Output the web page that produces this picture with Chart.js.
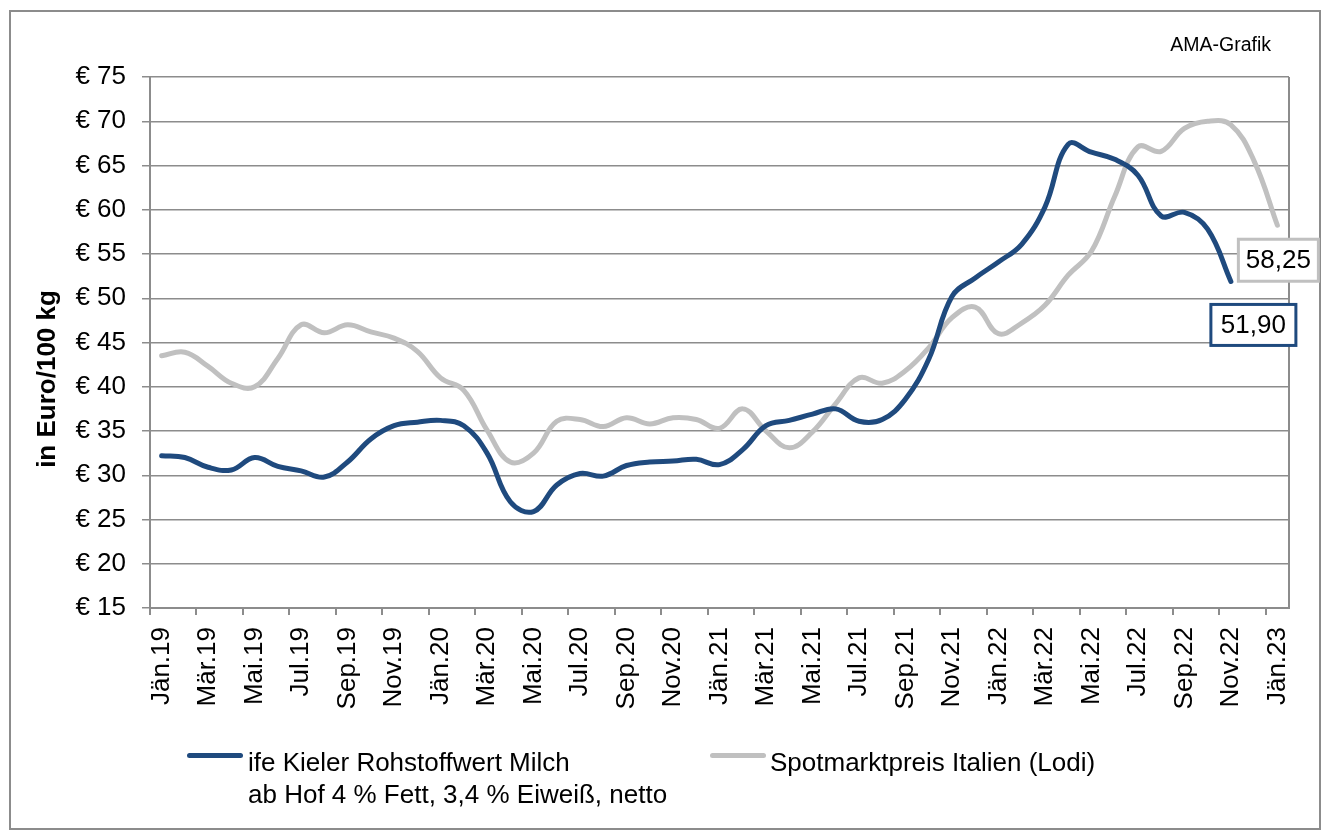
<!DOCTYPE html>
<html lang="de">
<head>
<meta charset="utf-8">
<title>Rohstoffwert Milch vs. Spotmarktpreis</title>
<script src="https://cdn.jsdelivr.net/npm/chart.js@4.4.1/dist/chart.umd.min.js"></script>
<style>
  html, body { margin: 0; padding: 0; background: #fff; }
  #wrap { position: relative; width: 1328px; height: 837px; overflow: hidden; font-family: 'Liberation Sans', Arial, sans-serif; }
  #rahmen { position: absolute; left: 9px; top: 10px; width: 1312px; height: 820px; box-sizing: border-box; border: 2px solid #8c8c8c; }
  #chart { position: absolute; left: 0; top: 0; }
  .swatch { position: absolute; width: 56px; height: 5px; border-radius: 3px; }
  .legtext { position: absolute; font-size: 26px; line-height: 31.7px; color: #000; white-space: pre; }
</style>
</head>
<body>
<div id="wrap">
  <div id="rahmen"></div>
  <canvas id="chart" width="1328" height="837"></canvas>
  <div class="swatch" style="left:187px; top:753px; background:#1f4a7e"></div>
  <div class="legtext" style="left:248px; top:747px">ife Kieler Rohstoffwert Milch
ab Hof 4 % Fett, 3,4 % Eiweiß, netto</div>
  <div class="swatch" style="left:710px; top:753px; background:#c0c0c0"></div>
  <div class="legtext" style="left:770px; top:747px">Spotmarktpreis Italien (Lodi)</div>
</div>
<script>
// ── Daten (Euro/100 kg, monatlich) ──

const kategorien = [
  'Jän.19', 'Feb.19', 'Mär.19', 'Apr.19', 'Mai.19', 'Jun.19', 'Jul.19', 'Aug.19', 'Sep.19', 'Okt.19', 'Nov.19', 'Dez.19',
  'Jän.20', 'Feb.20', 'Mär.20', 'Apr.20', 'Mai.20', 'Jun.20', 'Jul.20', 'Aug.20', 'Sep.20', 'Okt.20', 'Nov.20', 'Dez.20',
  'Jän.21', 'Feb.21', 'Mär.21', 'Apr.21', 'Mai.21', 'Jun.21', 'Jul.21', 'Aug.21', 'Sep.21', 'Okt.21', 'Nov.21', 'Dez.21',
  'Jän.22', 'Feb.22', 'Mär.22', 'Apr.22', 'Mai.22', 'Jun.22', 'Jul.22', 'Aug.22', 'Sep.22', 'Okt.22', 'Nov.22', 'Dez.22',
  'Jän.23'
];

const kielerRohstoffwert = [
  32.2, 32.0, 30.9, 30.6, 32.0, 31.0, 30.5, 29.8, 31.5, 34.1, 35.6, 36.0,
  36.2, 35.6, 32.5, 27.0, 25.9, 28.9, 30.2, 29.9, 31.1, 31.5, 31.6, 31.8,
  31.2, 32.9, 35.6, 36.2, 36.9, 37.5, 36.1, 36.3, 38.6, 43.1, 50.2, 52.3,
  54.1, 56.1, 60.3, 67.4, 66.5, 65.7, 63.9, 59.3, 59.7, 57.8, 51.9
];

const spotmarktLodi = [
  43.5, 43.9, 42.3, 40.4, 40.0, 43.2, 47.0, 46.1, 47.0, 46.2, 45.5, 44.0,
  41.0, 39.6, 35.1, 31.5, 32.5, 36.1, 36.3, 35.5, 36.5, 35.8, 36.5, 36.3,
  35.3, 37.5, 35.0, 33.1, 34.9, 38.1, 41.0, 40.4, 41.8, 44.4, 47.8, 49.0,
  46.0, 47.2, 49.2, 52.6, 55.3, 61.5, 67.1, 66.6, 69.2, 70.0, 69.6, 65.5,
  58.25
];

const yTicks = { min: 15, max: 75, step: 5 };

const BLAU = '#1f4a7e';
const GRAU = '#c0c0c0';
const RASTER = '#8c8c8c';
const SCHRIFT = "'Liberation Sans', Arial, sans-serif";

// ── Beschriftung der Endwerte ──

function wertText(v) {
  return v.toFixed(2).replace('.', ',');
}

function zeichneBox(ctx, x, y, w, h, farbe, text) {
  ctx.save();
  ctx.fillStyle = '#fff';
  ctx.fillRect(x, y, w, h);
  ctx.lineWidth = 3;
  ctx.strokeStyle = farbe;
  ctx.strokeRect(x, y, w, h);
  ctx.fillStyle = '#000';
  ctx.font = '26px ' + SCHRIFT;
  ctx.textAlign = 'center';
  ctx.textBaseline = 'middle';
  ctx.fillText(text, x + w / 2, y + h / 2 + 1);
  ctx.restore();
}

const endLabels = {
  id: 'endLabels',
  afterDatasetsDraw(chart) {
    const ctx = chart.ctx;
    const mBlau = chart.getDatasetMeta(0).data;
    const pBlau = mBlau[mBlau.length - 1];
    zeichneBox(ctx, pBlau.x - 20, pBlau.y + 23, 85, 41, BLAU, wertText(kielerRohstoffwert[kielerRohstoffwert.length - 1]));

    const mGrau = chart.getDatasetMeta(1).data;
    const pGrau = mGrau[mGrau.length - 1];
    zeichneBox(ctx, pGrau.x - 39, pGrau.y + 14, 80, 42, GRAU, wertText(spotmarktLodi[spotmarktLodi.length - 1]));
  }
};

// Rahmen rechts, Achsentitel, Quelle
const extras = {
  id: 'extras',
  beforeDatasetsDraw(chart) {
    const { ctx, chartArea } = chart;
    ctx.save();
    ctx.strokeStyle = RASTER;
    ctx.lineWidth = 2;
    ctx.beginPath();
    ctx.moveTo(chartArea.right, chartArea.top);
    ctx.lineTo(chartArea.right, chartArea.bottom);
    ctx.stroke();
    ctx.restore();
  },
  afterDraw(chart) {
    const ctx = chart.ctx;
    ctx.save();
    ctx.fillStyle = '#000';
    ctx.font = 'bold 26px ' + SCHRIFT;
    ctx.translate(48, 379);
    ctx.rotate(-Math.PI / 2);
    ctx.textAlign = 'center';
    ctx.textBaseline = 'middle';
    ctx.fillText('in Euro/100 kg', 0, 0);
    ctx.restore();

    ctx.save();
    ctx.fillStyle = '#000';
    ctx.font = '19.5px ' + SCHRIFT;
    ctx.textAlign = 'right';
    ctx.textBaseline = 'alphabetic';
    ctx.fillText('AMA-Grafik', 1271, 51);
    ctx.restore();
  }
};

new Chart(document.getElementById('chart'), {
  type: 'line',
  data: {
    labels: kategorien,
    datasets: [
      {
        label: 'ife Kieler Rohstoffwert Milch ab Hof 4 % Fett, 3,4 % Eiweiß, netto',
        data: kielerRohstoffwert,
        borderColor: BLAU,
        borderWidth: 5,
        borderCapStyle: 'round',
        borderJoinStyle: 'round',
        tension: 0.4,
        pointRadius: 0,
        fill: false,
      },
      {
        label: 'Spotmarktpreis Italien (Lodi)',
        data: spotmarktLodi,
        borderColor: GRAU,
        borderWidth: 5,
        borderCapStyle: 'round',
        borderJoinStyle: 'round',
        tension: 0.4,
        pointRadius: 0,
        fill: false,
      },
    ],
  },
  options: {
    responsive: false,
    animation: false,
    layout: { padding: { left: 0, top: 77, right: 39, bottom: 100 } },
    plugins: {
      legend: { display: false },
      tooltip: { enabled: false },
    },
    scales: {
      x: {
        offset: true,
        afterFit: (s) => { s.height = 129; },
        grid: {
          offset: true,
          drawOnChartArea: false,
          tickLength: 7,
          lineWidth: 2,
          color: (c) => (c.index % 2 === 0 ? RASTER : 'rgba(0,0,0,0)'),
        },
        border: { color: RASTER, width: 2 },
        ticks: {
          autoSkip: false,
          minRotation: 90,
          maxRotation: 90,
          padding: 12,
          color: '#000',
          font: { family: SCHRIFT, size: 26 },
          callback: (v, i) => (i % 2 === 0 ? kategorien[i] : ''),
        },
      },
      y: {
        min: yTicks.min,
        max: yTicks.max,
        afterFit: (s) => { s.width = 150; },
        grid: { color: RASTER, lineWidth: 1.5, tickLength: 8 },
        border: { color: RASTER, width: 2 },
        ticks: {
          stepSize: yTicks.step,
          padding: 16,
          color: '#000',
          font: { family: SCHRIFT, size: 26 },
          callback: (v) => '€ ' + v,
        },
      },
    },
  },
  plugins: [extras, endLabels],
});
</script>
</body>
</html>
